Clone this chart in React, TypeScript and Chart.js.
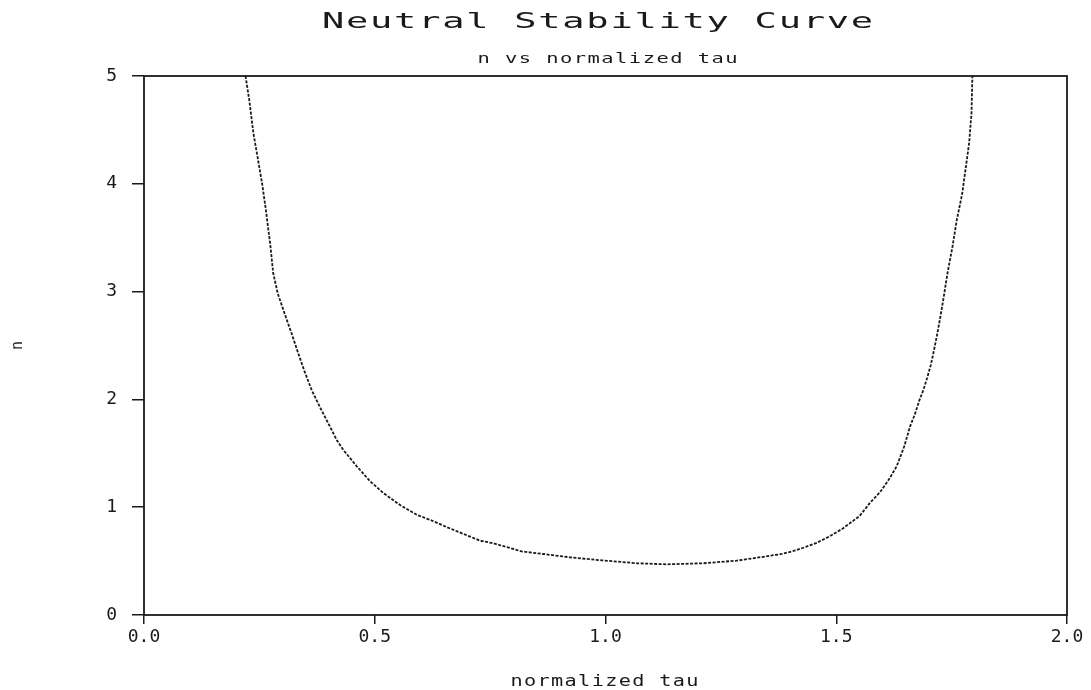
import { useEffect, useRef } from "react";
import { Chart, registerables } from "chart.js";

Chart.register(...registerables);

const titleText = "Neutral Stability Curve";
const subtitleText = "n vs normalized tau";
const xAxisTitle = "normalized tau";
const yAxisTitle = "n";

const xTickValues = [0.0, 0.5, 1.0, 1.5, 2.0];
const yTickValues = [0, 1, 2, 3, 4, 5];

const tauValues = [
  0.22, 0.228, 0.237, 0.246, 0.256, 0.264, 0.274, 0.28, 0.29, 0.306, 0.32, 0.334, 0.347, 0.363,
  0.381, 0.399, 0.418, 0.432, 0.461, 0.49, 0.519, 0.555, 0.591, 0.627, 0.659, 0.728, 0.757,
  0.786, 0.818, 0.865, 0.923, 0.992, 1.068, 1.133, 1.212, 1.284, 1.342, 1.382, 1.407, 1.429,
  1.458, 1.486, 1.515, 1.551, 1.573, 1.595, 1.616, 1.631, 1.647, 1.66, 1.671, 1.68, 1.689,
  1.697, 1.705, 1.712, 1.719, 1.727, 1.734, 1.741, 1.752, 1.761, 1.773, 1.78, 1.788, 1.793,
  1.795,
];

const nValues = [
  5.0, 4.78, 4.47, 4.25, 4.0, 3.76, 3.42, 3.17, 2.98, 2.78, 2.61, 2.43, 2.27, 2.09, 1.93, 1.78,
  1.62, 1.53, 1.38, 1.24, 1.13, 1.02, 0.93, 0.87, 0.81, 0.69, 0.665, 0.63, 0.59, 0.566, 0.535,
  0.507, 0.48, 0.47, 0.48, 0.504, 0.54, 0.566, 0.594, 0.624, 0.67, 0.73, 0.805, 0.92, 1.04,
  1.14, 1.27, 1.38, 1.56, 1.75, 1.87, 1.99, 2.09, 2.2, 2.32, 2.46, 2.61, 2.8, 2.98, 3.17, 3.42,
  3.66, 3.91, 4.13, 4.38, 4.65, 5.0,
];

const INK = "#1a1a1a";
const MONO = '"DejaVu Sans Mono", "Liberation Mono", monospace';

function drawSpaced(
  ctx: CanvasRenderingContext2D,
  text: string,
  cx: number,
  baseline: number,
  font: string,
  spacing: number,
  targetWidth: number | null,
  rotate: boolean
) {
  ctx.save();
  ctx.translate(cx, baseline);
  if (rotate) ctx.rotate(-Math.PI / 2);
  ctx.font = font;
  (ctx as any).letterSpacing = spacing + "px";
  const hasSpacing = (ctx as any).letterSpacing !== undefined;
  const raw = ctx.measureText(text).width;
  const w = hasSpacing ? raw - spacing : raw;
  const sx = targetWidth ? targetWidth / w : 1;
  ctx.scale(sx, 1);
  ctx.fillStyle = INK;
  ctx.textAlign = "left";
  ctx.textBaseline = "alphabetic";
  ctx.fillText(text, -w / 2, 0);
  ctx.restore();
}

const textPlugin = {
  id: "plotterText",
  afterDraw(chart: any) {
    const ctx: CanvasRenderingContext2D = chart.ctx;
    const a = chart.chartArea;
    const cx = (a.left + a.right) / 2;
    const cy = (a.top + a.bottom) / 2;
    drawSpaced(ctx, titleText, cx - 8, 28, `21px ${MONO}`, 1, 551, false);
    drawSpaced(ctx, subtitleText, cx + 2, 63, `14px ${MONO}`, 1, 260, false);
    drawSpaced(ctx, xAxisTitle, cx - 1, 686, `15px ${MONO}`, 1, 188, false);
    drawSpaced(ctx, yAxisTitle, 22, cy, `15px ${MONO}`, 0, null, true);
  },
};

const framePlugin = {
  id: "plotFrame",
  afterDatasetsDraw(chart: any) {
    const ctx: CanvasRenderingContext2D = chart.ctx;
    const a = chart.chartArea;
    ctx.save();
    ctx.strokeStyle = INK;
    ctx.lineWidth = 1.8;
    ctx.strokeRect(a.left, a.top, a.right - a.left, a.bottom - a.top);
    ctx.restore();
  },
};

export default function App() {
  const ref = useRef<HTMLCanvasElement | null>(null);

  useEffect(() => {
    if (!ref.current) return;
    const points = tauValues.map((t, i) => ({ x: t, y: nValues[i] }));
    const chart = new Chart(ref.current, {
      type: "line",
      data: {
        datasets: [
          {
            label: "n",
            data: points,
            borderColor: INK,
            borderWidth: 1.8,
            borderDash: [3, 1.5],
            pointRadius: 0,
            tension: 0,
            fill: false,
          },
        ],
      },
      options: {
        animation: false,
        responsive: false,
        layout: { padding: { top: 76, right: 24, bottom: 0, left: 0 } },
        plugins: {
          legend: { display: false },
          title: { display: false },
          tooltip: { enabled: false },
        },
        scales: {
          x: {
            type: "linear",
            min: 0,
            max: 2,
            afterBuildTicks: (s: any) => {
              s.ticks = xTickValues.map((v) => ({ value: v }));
            },
            afterFit: (s: any) => {
              s.height = 75;
            },
            ticks: {
              color: INK,
              font: { family: MONO, size: 18 },
              padding: 3,
              maxRotation: 0,
              callback: (v: any) => Number(v).toFixed(1),
            },
            grid: {
              display: true,
              drawOnChartArea: false,
              drawTicks: true,
              tickLength: 9,
              color: INK,
              lineWidth: 1.5,
            },
            border: { display: false },
          },
          y: {
            type: "linear",
            min: 0,
            max: 5,
            afterBuildTicks: (s: any) => {
              s.ticks = yTickValues.map((v) => ({ value: v }));
            },
            afterFit: (s: any) => {
              s.width = 144;
            },
            ticks: {
              color: INK,
              font: { family: MONO, size: 18 },
              padding: 15,
              callback: (v: any) => String(v),
            },
            grid: {
              display: true,
              drawOnChartArea: false,
              drawTicks: true,
              tickLength: 12,
              color: INK,
              lineWidth: 1.5,
            },
            border: { display: false },
          },
        },
      },
      plugins: [framePlugin, textPlugin],
    });
    return () => chart.destroy();
  }, []);

  return (
    <div style={{ position: "fixed", left: 0, top: 0, width: 1091, height: 690, background: "#fff" }}>
      <canvas ref={ref} width={1091} height={690} style={{ display: "block" }} />
    </div>
  );
}
